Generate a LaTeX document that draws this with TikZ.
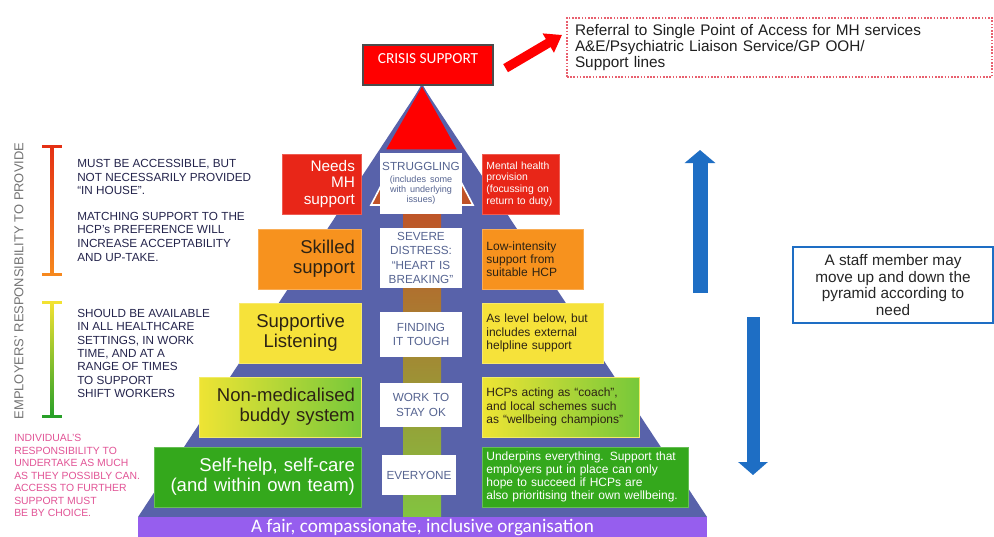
\documentclass[tikz,border=0pt]{standalone}
\usepackage{fontspec}
\setmainfont{Liberation Sans}
\newfontfamily\calibri{Carlito}
\definecolor{pyrblue}{RGB}{88,98,170}
\definecolor{crisisred}{RGB}{255,0,0}
\definecolor{mhred}{RGB}{232,38,24}
\definecolor{skillorange}{RGB}{247,146,30}
\definecolor{listenyellow}{RGB}{246,226,58}
\definecolor{buddyyellow}{RGB}{238,228,52}
\definecolor{buddygreen}{RGB}{118,200,58}
\definecolor{selfgreen}{RGB}{52,168,28}
\definecolor{barred}{RGB}{228,48,20}
\definecolor{barorange}{RGB}{246,136,30}
\definecolor{baryellow}{RGB}{242,226,50}
\definecolor{bargreen}{RGB}{40,160,40}
\definecolor{orgpurple}{RGB}{150,94,238}
\definecolor{staffblue}{RGB}{30,110,196}
\definecolor{labelgrey}{RGB}{86,100,145}
\definecolor{notenavy}{RGB}{36,36,76}
\definecolor{notepink}{RGB}{226,84,150}
\definecolor{darktext}{RGB}{45,35,20}
\definecolor{stemtop}{RGB}{192,82,40}
\definecolor{stemmid}{RGB}{140,128,48}
\definecolor{stembot}{RGB}{130,196,64}
\definecolor{dotred}{RGB}{232,96,110}
\usetikzlibrary{arrows.meta, calc}
\tikzset{
	leftbox/.style={rectangle, fill=#1, draw=#1!75!white, line width=0.6pt, inner xsep=5pt, inner ysep=0pt, minimum height=45pt, align=right, text=darktext, font=\fontsize{13.9}{15}\selectfont, anchor=east},
	rightbox/.style={rectangle, fill=#1, draw=#1!75!white, line width=0.6pt, inner xsep=3pt, inner ysep=0pt, minimum height=45pt, align=left, text=darktext, font=\fontsize{9}{9.9}\selectfont, anchor=west},
	stage/.style={rectangle, fill=white, inner sep=1pt, text width=59.5pt, align=center, text=labelgrey, font=\fontsize{8.8}{10.8}\selectfont},
	note/.style={align=left, anchor=north west, inner sep=0pt, text=notenavy, font=\fontsize{8.8}{10.2}\selectfont},
	crisis/.style={rectangle, fill=crisisred, draw=black!70, line width=0.8pt, minimum width=97.5pt, minimum height=30pt, text=white, text depth=9pt, font=\calibri\fontsize{11.5}{12}\selectfont},
	referral/.style={rectangle, draw=dotred, dash pattern=on 1.2pt off 1.2pt, line width=1pt, minimum width=318.75pt, minimum height=44.25pt, inner xsep=6pt, text width=306.75pt, align=left, text=black!88, font=\fontsize{11.5}{12}\selectfont},
	staffnote/.style={rectangle, draw=staffblue, line width=1.2pt, minimum width=150pt, minimum height=57pt, align=center, text=black!85, font=\fontsize{11.5}{12.4}\selectfont},
	orgbar/.style={rectangle, fill=orgpurple, minimum width=426.75pt, minimum height=15pt, inner sep=0pt, text=white, font=\calibri\fontsize{14.4}{14.4}\selectfont},
	staffarrow/.style={-{Triangle[width=22.5pt, length=9.75pt]}, line width=11.25pt, draw=staffblue},
	crisisarrow/.style={-{Triangle[width=16pt, length=12pt]}, line width=7pt, draw=crisisred},
}
\begin{document}
\begin{tikzpicture}[x=0.75pt, y=-0.75pt]
	\useasboundingbox (0,0) rectangle (994,536);
	\fill[white] (0,0) rectangle (994,536);
	\fill[pyrblue] (422,85) -- (707,517) -- (138,517) -- cycle;
	\filldraw[fill=stemtop, draw=white, line width=1.2pt] (371,205) -- (473,205) -- (460,180) -- (384,180) -- cycle;
	\shade[top color=stemtop, middle color=stemmid, bottom color=stembot] (403,205) rectangle (441,517);
	\filldraw[fill=crisisred, draw=pyrblue, line width=1pt] (422,85) -- (458,150) -- (385,150) -- cycle;
	\node[orgbar] (org) at (422.5,527) {A fair, compassionate, inclusive organisation};

	\node[stage, minimum height=45.75pt] (struggling) at (421,183.5) {STRUGGLING\\[1pt]{\fontsize{6.8}{7.6}\selectfont (includes some\\with underlying\\issues)\par}};
	\node[stage, minimum height=45pt] (severe) at (421,258) {SEVERE\\DISTRESS:\\“HEART IS\\BREAKING”};
	\node[stage, minimum height=33.75pt] (tough) at (421,334.5) {FINDING\\IT TOUGH};
	\node[stage, minimum height=33pt] (stayok) at (421,405) {WORK TO\\STAY OK};
	\node[stage, minimum height=30pt, text width=53pt] (everyone) at (419,475) {EVERYONE};

	\node[leftbox=mhred, text=white, text width=49.25pt, font=\fontsize{11.5}{12.5}\selectfont] (needs) at (362,184) {Needs\\MH\\support};
	\node[leftbox=skillorange, text width=67.25pt] (skilled) at (362,259) {Skilled\\support};
	\node[leftbox=listenyellow, text width=81.5pt, align=center] (listening) at (362,333) {Supportive\\Listening};
	\node[leftbox=buddyyellow, left color=buddyyellow, right color=buddygreen, text width=111.5pt] (buddy) at (362,407) {Non-medicalised\\buddy system};
	\node[leftbox=selfgreen, text=white, text width=145.25pt] (selfhelp) at (362,477) {Self-help, self-care\\(and within own team)};

	\node[rightbox=mhred, text=white, text width=51.75pt, font=\fontsize{7.8}{8.8}\selectfont] (mhprov) at (482,184) {Mental health\\provision\\(focussing on\\return to duty)};
	\node[rightbox=skillorange, text width=69.75pt] (lowint) at (482,259) {Low-intensity\\support from\\suitable HCP};
	\node[rightbox=listenyellow, text width=84.75pt] (helpline) at (482,333) {As level below, but\\includes external\\helpline support};
	\node[rightbox=buddyyellow, left color=buddyyellow, right color=buddygreen, text width=111.75pt] (coach) at (482,407) {HCPs acting as “coach”,\\and local schemes such\\as “wellbeing champions”};
	\node[rightbox=selfgreen, text=white, text width=148.5pt] (underpins) at (482,477) {Underpins everything. Support that\\employers put in place can only\\hope to succeed if HCPs are\\also prioritising their own wellbeing.};

	\node[crisis] (crisis) at (428,65) {CRISIS SUPPORT};
	\node[referral] (referral) at (779.5,47.5) {Referral to Single Point of Access for MH services\\A\&E/Psychiatric Liaison Service/GP OOH/\\Support lines};
	\draw[crisisarrow, shorten <=10.5pt, shorten >=3.75pt] ($(crisis.east)!0.5!(crisis.south east)$) -- ($(referral.west)!0.5!(referral.north west)$);

	\node[rotate=90, text=black!55, font=\fontsize{9.7}{10}\selectfont] (employers) at (19,281) {EMPLOYERS' RESPONSIBILITY TO PROVIDE};
	\foreach \ya/\yb/\ca/\cb in {146/274/barred/barorange, 302/416/baryellow/bargreen}{
		\shade[top color=\ca, bottom color=\cb] (50.5,\ya) rectangle (53.5,\yb);
		\fill[\ca] (42,\ya-1.5) rectangle (62,\ya+1.5);
		\fill[\cb] (42,\yb-1.5) rectangle (62,\yb+1.5);
	}
	\node[note] (access) at (77,159) {MUST BE ACCESSIBLE, BUT\\NOT NECESSARILY PROVIDED\\“IN HOUSE”.\\[9pt]MATCHING SUPPORT TO THE\\HCP's PREFERENCE WILL\\INCREASE ACCEPTABILITY\\AND UP-TAKE.};
	\node[note, font=\fontsize{8.8}{10}\selectfont] (available) at (77,309) {SHOULD BE AVAILABLE\\IN ALL HEALTHCARE\\SETTINGS, IN WORK\\TIME, AND AT A\\RANGE OF TIMES\\TO SUPPORT\\SHIFT WORKERS};
	\node[note, text=notepink, font=\fontsize{7.8}{9.4}\selectfont] (individual) at (14,434) {INDIVIDUAL'S\\RESPONSIBILITY TO\\UNDERTAKE AS MUCH\\AS THEY POSSIBLY CAN.\\ACCESS TO FURTHER\\SUPPORT MUST\\BE BY CHOICE.};

	\coordinate (upfoot) at (700,293);
	\coordinate (uphead) at (700,150);
	\draw[staffarrow] (upfoot) -- (uphead);
	\coordinate (downfoot) at (753,317);
	\coordinate (downhead) at (753,475);
	\draw[staffarrow, line width=9.75pt, -{Triangle[width=21.75pt, length=9.75pt]}] (downfoot) -- (downhead);
	\node[staffnote] (staff) at (893,285) {A staff member may\\move up and down the\\pyramid according to\\need};
\end{tikzpicture}
\end{document}
